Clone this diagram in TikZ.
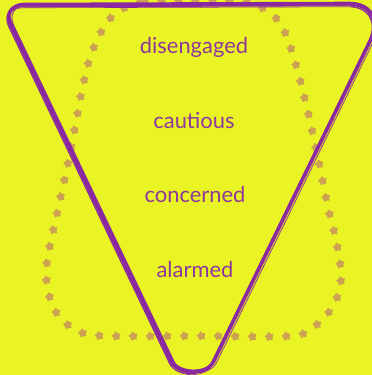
\documentclass[tikz,border=0pt]{standalone}
\usepackage{fontspec}
\setmainfont{Lato}
\usetikzlibrary{shapes.geometric,decorations.markings}
\definecolor{bgyellow}{RGB}{234,243,35}
\definecolor{linepurple}{RGB}{138,40,162}
\definecolor{textpurple}{RGB}{140,56,156}
\definecolor{leaftan}{RGB}{204,162,82}
% outline of the funnel
\def\funnelpath{(23,5) -- (348,4) .. controls (370,4) and (380.1,20.2) .. (370.4,39.9)
  -- (213.1,361.9) .. controls (206.6,375.3) and (177.7,375.1) .. (171.3,361.7)
  -- (10.5,24.8) .. controls (5.3,13.9) and (10.9,5) .. cycle}
\begin{document}
\begin{tikzpicture}[x=1bp,y=-1bp,
    word/.style={text=textpurple,font=\fontsize{22}{26}\selectfont,anchor=base},
    leaf/.style={star,star points=5,star point ratio=1.45,fill=leaftan,minimum size=9.5bp,inner sep=0pt},
    sketch/.style={draw=linepurple,line join=round,line cap=round}]
\fill[bgyellow] (0,0) rectangle (372,375);
\useasboundingbox (0,0) rectangle (372,375);
% ring of leaves
\path[decoration={markings,mark=between positions 0 and 1 step 17bp with {\node[leaf,rotate=12] {};}},
      postaction={decorate}]
  plot[smooth cycle,tension=0.6] coordinates {(190,1) (140,2) (120,11) (106,24) (92,52) (83,85) (77,117)
    (67,168) (56,218) (47,262) (48,290) (58,315) (80,332) (110,336) (200,336) (290,336)
    (315,326) (333,306) (341,280) (337,245) (328,207) (318,158) (307,108) (296,65) (283,28) (268,12) (245,2)};
% sketchy triangle
\begin{scope}
\clip (0,0) rectangle (372,375);
\foreach \dx/\dy/\w in {0/0/3.2, 1.2/-1.6/1.4, -1.8/1.8/1.0, 3.4/0.8/0.7, -0.6/2.8/0.6, 2.2/-0.2/0.5}
  \draw[sketch,line width=\w bp,shift={(\dx,\dy)}] \funnelpath;
\end{scope}
% levels
\node[word] (disengaged) at (194,53) {disengaged};
\node[word] (cautious) at (194,128) {cautious};
\node[word] (concerned) at (195,202) {concerned};
\node[word] (alarmed) at (195,277) {alarmed};
\end{tikzpicture}
\end{document}
